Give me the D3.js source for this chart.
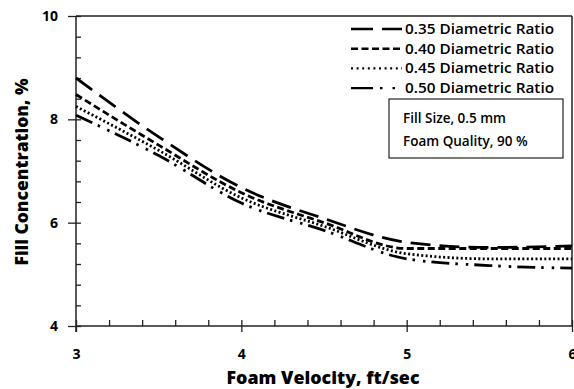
<!DOCTYPE html>
<html>
<head>
<meta charset="utf-8">
<script src="https://cdn.jsdelivr.net/npm/d3@7"></script>
<style>
  body { margin: 0; background: #fff; }
  svg { display: block; font-family: "Open Sans", Lato, sans-serif; }
  .axis path { display: none; }
  .axis line { stroke: #222; stroke-width: 1.3; }
  .axis text { fill: #000; font-weight: bold; font-size: 14px; font-family: "Open Sans", sans-serif; }
</style>
</head>
<body>
<div id="viz"></div>
<script>
// foam velocity (ft/sec)
var velocity = [3, 3.5, 4, 4.5, 5, 5.5, 6];
// fill concentration (%) per diametric ratio
var ratio035 = [8.80, 7.66, 6.68, 6.08, 5.62, 5.52, 5.55];
var ratio040 = [8.48, 7.50, 6.58, 6.00, 5.50, 5.50, 5.50];
var ratio045 = [8.25, 7.40, 6.48, 5.93, 5.40, 5.30, 5.30];
var ratio050 = [8.08, 7.30, 6.38, 5.85, 5.30, 5.17, 5.12];
var seriesNames = ["0.35 Diametric Ratio", "0.40 Diametric Ratio", "0.45 Diametric Ratio", "0.50 Diametric Ratio"];
var xMajor = [3, 4, 5, 6];
var yMajor = [4, 6, 8, 10];
var noteLines = ["Fill Size, 0.5 mm", "Foam Quality, 90 %"];

var W = 574, H = 389;
var margin = {top: 16, right: 2, bottom: 63, left: 76};

var x = d3.scaleLinear().domain([3, 6]).range([margin.left, W - margin.right]);
var y = d3.scaleLinear().domain([4, 10]).range([H - margin.bottom, margin.top]);

var svg = d3.select("#viz").append("svg")
    .attr("width", W)
    .attr("height", H);

var dashes = ["20,9", "7,3.5", "2,2.4", "18,6,2.5,8,2.5,6"];
var allSeries = [ratio035, ratio040, ratio045, ratio050];

// minor ticks
var xMinor = d3.range(3, 6.001, 0.2).filter(function(v){ return Math.abs(v - Math.round(v)) > 0.01; });
var yMinor = d3.range(4, 10.001, 0.4).filter(function(v){ return Math.abs(v/2 - Math.round(v/2)) > 0.01; });

// x axis (outer part of major ticks + labels)
svg.append("g")
    .attr("class", "axis")
    .attr("transform", "translate(0," + y(4) + ")")
    .call(d3.axisBottom(x).tickValues(xMajor).tickSize(6).tickPadding(17).tickFormat(d3.format("d")));
// x inside ticks
svg.append("g")
    .attr("class", "axis")
    .attr("transform", "translate(0," + y(4) + ")")
    .call(d3.axisTop(x).tickValues(xMajor.concat(xMinor)).tickSize(6).tickFormat(""));

// y axis
svg.append("g")
    .attr("class", "axis")
    .attr("transform", "translate(" + x(3) + ",0)")
    .call(d3.axisLeft(y).tickValues(yMajor).tickSize(8).tickPadding(10).tickFormat(d3.format("d")));
svg.append("g")
    .attr("class", "axis")
    .attr("transform", "translate(" + x(3) + ",0)")
    .call(d3.axisRight(y).tickValues(yMajor.concat(yMinor)).tickSize(5).tickFormat(""));

// frame lines
svg.append("line")
    .attr("x1", x(3)).attr("x2", x(3))
    .attr("y1", y(10)).attr("y2", y(4) + 6)
    .attr("stroke", "#222").attr("stroke-width", 1.5);
svg.append("line")
    .attr("x1", x(3)).attr("x2", x(6))
    .attr("y1", y(4)).attr("y2", y(4))
    .attr("stroke", "#222").attr("stroke-width", 1.5);
svg.append("line")
    .attr("x1", x(3)).attr("x2", x(6))
    .attr("y1", y(10)).attr("y2", y(10))
    .attr("stroke", "#222").attr("stroke-width", 1.5);
svg.append("line")
    .attr("x1", x(6)).attr("x2", x(6))
    .attr("y1", y(10)).attr("y2", y(4))
    .attr("stroke", "#222").attr("stroke-width", 1.5);

// curves
var line = d3.line()
    .x(function(d, i){ return x(velocity[i]); })
    .y(function(d){ return y(d); })
    .curve(d3.curveMonotoneX);

svg.append("g").selectAll("path")
    .data(allSeries)
  .enter().append("path")
    .attr("d", line)
    .attr("fill", "none")
    .attr("stroke", "#000")
    .attr("stroke-width", 2.8)
    .attr("stroke-dasharray", function(d, i){ return dashes[i]; });

// legend
var legend = svg.append("g").selectAll("g")
    .data(seriesNames)
  .enter().append("g")
    .attr("transform", function(d, i){ return "translate(351," + (29 + i * 19.7) + ")"; });
legend.append("line")
    .attr("x1", 0).attr("x2", 51)
    .attr("stroke", "#000")
    .attr("stroke-width", 2.4)
    .attr("stroke-dasharray", function(d, i){ return i == 2 ? "2,3.6" : (i == 0 ? "22,9" : (i == 1 ? "7,3.5" : "22,7,2.5,10,2.5,8")); });
legend.append("text")
    .attr("x", 54)
    .attr("dy", "0.35em")
    .style("font-size", "14.5px")
    .style("font-weight", 600)
    .attr("textLength", 149)
    .attr("lengthAdjust", "spacingAndGlyphs")
    .text(function(d){ return d; });

// note box
svg.append("rect")
    .attr("x", 389).attr("y", 99)
    .attr("width", 174).attr("height", 59)
    .attr("fill", "#fff")
    .attr("stroke", "#222")
    .attr("stroke-width", 1.2);
svg.append("g").selectAll("text")
    .data(noteLines)
  .enter().append("text")
    .attr("x", 403)
    .attr("y", function(d, i){ return 118 + i * 23; })
    .attr("dy", "0.35em")
    .style("font-size", "13.5px")
    .style("font-weight", 600)
    .text(function(d){ return d; });

// axis titles
svg.append("text")
    .attr("x", 323).attr("y", 378)
    .attr("dy", "0.35em")
    .attr("text-anchor", "middle")
    .style("font-weight", 800)
    .style("font-size", "17px")
    .attr("textLength", 193)
    .attr("lengthAdjust", "spacingAndGlyphs")
    .text("Foam Velocity, ft/sec");
svg.append("text")
    .attr("transform", "translate(22,172) rotate(-90)")
    .attr("dy", "0.35em")
    .attr("text-anchor", "middle")
    .style("font-weight", 800)
    .style("font-size", "17px")
    .attr("textLength", 187)
    .attr("lengthAdjust", "spacingAndGlyphs")
    .text("Fill Concentration, %");
</script>
</body>
</html>
